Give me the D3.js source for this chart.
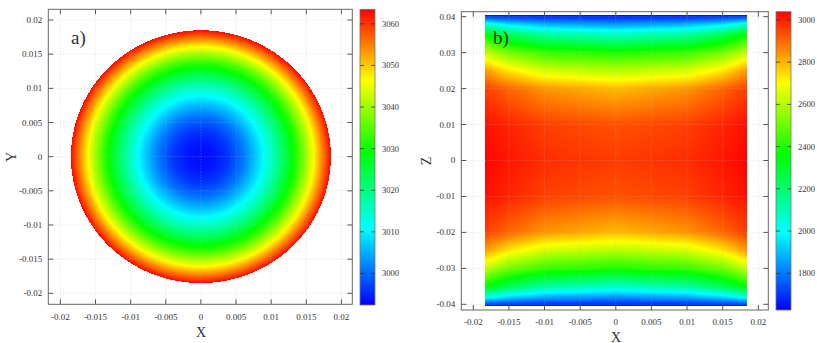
<!DOCTYPE html>
<html lang="en">
<head>
<meta charset="utf-8">
<title>Temperature maps</title>
<script src="https://cdn.jsdelivr.net/npm/d3@7"></script>
<style>
  body { margin: 0; background: #fff; }
  svg text { font-family: "Liberation Serif", "DejaVu Serif", serif; fill: #333; }
</style>
</head>
<body>
<script>
// tick labels
var xTicks = [-0.02, -0.015, -0.01, -0.005, 0, 0.005, 0.01, 0.015, 0.02];
var yTicksA = [-0.02, -0.015, -0.01, -0.005, 0, 0.005, 0.01, 0.015, 0.02];
var zTicksB = [-0.04, -0.03, -0.02, -0.01, 0, 0.01, 0.02, 0.03, 0.04];
var cbTicksA = [3000, 3010, 3020, 3030, 3040, 3050, 3060];
var cbTicksB = [1800, 2000, 2200, 2400, 2600, 2800, 3000];

// panel a: radial temperature profile
var radiusA = [0, 0.002, 0.004, 0.006, 0.008, 0.010, 0.012, 0.014, 0.016, 0.0185];
var tempA   = [2993, 2994, 2996.5, 3001, 3007.5, 3015, 3024, 3034, 3046, 3063];
var rimA = 0.0185;

// panel b: temperature along |z| for several |x| columns
var xKnotsB = [0, 0.01, 0.015, 0.0185];
var zKnotsB = [0, 0.01, 0.02, 0.025, 0.03, 0.035, 0.0375, 0.0405];
var tempB_x000 = [2960, 2930, 2790, 2600, 2395, 2080, 1880, 1640];
var tempB_x010 = [2980, 2955, 2840, 2640, 2435, 2140, 1920, 1640];
var tempB_x015 = [3010, 2990, 2905, 2730, 2510, 2245, 1995, 1640];
var tempB_x185 = [3035, 3018, 2955, 2840, 2625, 2365, 2110, 1640];
var halfWidthB = 0.0184, halfHeightB = 0.0405;

// colour ramp (gnuplot style rainbow)
var rampStops = [0, 0.26, 0.52, 0.76, 1];
var rampColors = ["#0000ff", "#00ffff", "#00ff00", "#ffff00", "#ff0000"];

var W = 817, H = 343;
var svg = d3.select("body").append("svg").attr("width", W).attr("height", H);

function makeColor(lo, hi) {
  return d3.scaleLinear()
    .domain(rampStops.map(function(s) { return lo + s * (hi - lo); }))
    .range(rampColors)
    .clamp(true);
}

function heatImage(g, x, y, valueAt) {
  var x0 = Math.round(x.range()[0]), x1 = Math.round(x.range()[1]);
  var y0 = Math.round(y.range()[1]), y1 = Math.round(y.range()[0]);
  var w = x1 - x0, h = y1 - y0;
  var canvas = document.createElement("canvas");
  canvas.width = w; canvas.height = h;
  var ctx = canvas.getContext("2d");
  var img = ctx.createImageData(w, h);
  for (var j = 0; j < h; j++) {
    for (var i = 0; i < w; i++) {
      var c = valueAt(x.invert(x0 + i + 0.5), y.invert(y0 + j + 0.5));
      if (c == null) continue;
      var rgb = d3.rgb(c);
      var k = (j * w + i) * 4;
      img.data[k] = rgb.r; img.data[k + 1] = rgb.g; img.data[k + 2] = rgb.b; img.data[k + 3] = 255;
    }
  }
  ctx.putImageData(img, 0, 0);
  g.append("image")
    .attr("x", x0).attr("y", y0).attr("width", w).attr("height", h)
    .attr("href", canvas.toDataURL());
}

function frame(g, x, y, xt, yt, labelDy) {
  var L = x.range()[0], R = x.range()[1], T = y.range()[1], B = y.range()[0];
  var grid = g.append("g").attr("stroke", "#bbb").attr("stroke-width", 0.6)
    .attr("stroke-dasharray", "1,2").attr("opacity", 0.7);
  xt.forEach(function(d) {
    grid.append("line").attr("x1", x(d)).attr("x2", x(d)).attr("y1", T).attr("y2", B);
  });
  yt.forEach(function(d) {
    grid.append("line").attr("y1", y(d)).attr("y2", y(d)).attr("x1", L).attr("x2", R);
  });
  var tk = g.append("g").attr("stroke", "#555").attr("stroke-width", 1);
  xt.forEach(function(d) {
    tk.append("line").attr("x1", x(d)).attr("x2", x(d)).attr("y1", B).attr("y2", B - 5);
    tk.append("line").attr("x1", x(d)).attr("x2", x(d)).attr("y1", T).attr("y2", T + 5);
  });
  yt.forEach(function(d) {
    tk.append("line").attr("y1", y(d)).attr("y2", y(d)).attr("x1", L).attr("x2", L + 5);
    tk.append("line").attr("y1", y(d)).attr("y2", y(d)).attr("x1", R).attr("x2", R - 5);
  });
  g.append("rect").attr("x", L).attr("y", T).attr("width", R - L).attr("height", B - T)
    .attr("fill", "none").attr("stroke", "#666").attr("stroke-width", 1);

  g.selectAll(".xl").data(xt).enter().append("text")
    .attr("x", function(d) { return x(d); }).attr("y", B + labelDy)
    .attr("text-anchor", "middle").attr("font-size", "9px")
    .text(function(d) { return d; });
  g.selectAll(".yl").data(yt).enter().append("text")
    .attr("x", L - 6).attr("y", function(d) { return y(d) + 3; })
    .attr("text-anchor", "end").attr("font-size", "9px")
    .text(function(d) { return d; });
}

function colorbar(g, left, top, bottom, lo, hi, ticks) {
  var w = 15;
  var cy = d3.scaleLinear().domain([lo, hi]).range([bottom, top]);
  var id = "cb" + left;
  var grad = svg.append("defs").append("linearGradient").attr("id", id)
    .attr("x1", 0).attr("y1", 1).attr("x2", 0).attr("y2", 0);
  rampStops.forEach(function(s, i) {
    grad.append("stop").attr("offset", s).attr("stop-color", rampColors[i]);
  });
  g.append("rect").attr("x", left).attr("y", top).attr("width", w).attr("height", bottom - top)
    .attr("fill", "url(#" + id + ")").attr("stroke", "#777").attr("stroke-width", 0.8);
  var tk = g.append("g").attr("stroke", "#333").attr("stroke-width", 0.8);
  ticks.forEach(function(d) {
    tk.append("line").attr("x1", left).attr("x2", left + 4).attr("y1", cy(d)).attr("y2", cy(d));
    tk.append("line").attr("x1", left + w).attr("x2", left + w - 4).attr("y1", cy(d)).attr("y2", cy(d));
  });
  g.selectAll(".cl").data(ticks).enter().append("text")
    .attr("x", left + w + 7).attr("y", function(d) { return cy(d) + 3; })
    .attr("font-size", "8.5px").text(function(d) { return d; });
}

// ---------- panel a ----------
var gA = svg.append("g");
var xA = d3.scaleLinear().domain([-0.02172, 0.02155]).range([48.3, 352.3]);
var yA = d3.scaleLinear().domain([-0.02161, 0.02157]).range([304.3, 9.3]);
var colorA = makeColor(2992.4, 3063.5);
var profileA = d3.scaleLinear().domain(radiusA).range(tempA).clamp(true);
heatImage(gA, xA, yA, function(px, py) {
  var r = Math.sqrt(px * px + py * py);
  return r <= rimA ? colorA(profileA(r)) : null;
});
frame(gA, xA, yA, xTicks, yTicksA, 16);
colorbar(gA, 360, 9.3, 305, 2992.4, 3063.5, cbTicksA);
gA.append("text").attr("x", 201).attr("y", 336.5).attr("text-anchor", "middle")
  .attr("font-size", "14px").text("X");
gA.append("text").attr("transform", "translate(16,157) rotate(-90)").attr("text-anchor", "middle")
  .attr("font-size", "14px").text("Y");
gA.append("text").attr("x", 71).attr("y", 44).attr("font-size", "19px").attr("fill", "#000").text("a)");

// ---------- panel b ----------
var gB = svg.append("g");
var xB = d3.scaleLinear().domain([-0.02168, 0.0214]).range([461.3, 768.3]);
var yB = d3.scaleLinear().domain([-0.04158, 0.04138]).range([310, 11.7]);
var colorB = makeColor(1626, 3039);
var columnsB = [tempB_x000, tempB_x010, tempB_x015, tempB_x185].map(function(col) {
  return d3.scaleLinear().domain(zKnotsB).range(col).clamp(true);
});
heatImage(gB, xB, yB, function(px, pz) {
  if (Math.abs(px) > halfWidthB || Math.abs(pz) > halfHeightB) return null;
  var vals = columnsB.map(function(s) { return s(Math.abs(pz)); });
  var t = d3.scaleLinear().domain(xKnotsB).range(vals).clamp(true)(Math.abs(px));
  return colorB(t);
});
frame(gB, xB, yB, xTicks, zTicksB, 15);
colorbar(gB, 776, 11.7, 310, 1626, 3039, cbTicksB);
gB.append("text").attr("x", 616).attr("y", 341.5).attr("text-anchor", "middle")
  .attr("font-size", "14px").text("X");
gB.append("text").attr("transform", "translate(431,161) rotate(-90)").attr("text-anchor", "middle")
  .attr("font-size", "14px").text("Z");
gB.append("text").attr("x", 493).attr("y", 44).attr("font-size", "19px").attr("fill", "#000").text("b)");
</script>
</body>
</html>
